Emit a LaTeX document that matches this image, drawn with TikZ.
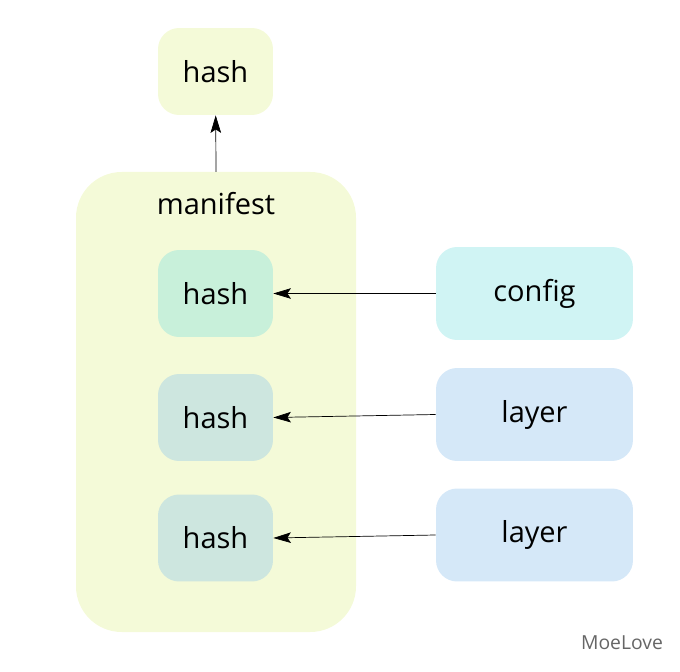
\documentclass[tikz,border=0pt]{standalone}
\usepackage{fontspec}
\setmainfont{Open Sans}
\usepackage{tikz}
\usetikzlibrary{positioning,arrows.meta}
\definecolor{paleyellow}{HTML}{F4FAD8}
\definecolor{mint}{HTML}{C8F0DA}
\definecolor{sage}{HTML}{CDE6DF}
\definecolor{aqua}{HTML}{D0F4F4}
\definecolor{skyblue}{HTML}{D5E8F8}
\tikzset{
  box/.style={rounded corners=12pt,minimum width=2.3cm,minimum height=1.74cm,font=\fontsize{16.5}{18}\selectfont,inner sep=0pt},
  wide/.style={box,minimum width=3.94cm,minimum height=1.86cm},
  link/.style={-{Stealth[length=10pt,width=6pt,inset=2pt]},thin}
}
\begin{document}
\begin{tikzpicture}[x=0.02cm,y=-0.02cm,line join=round]
\useasboundingbox (0,0) rectangle (680,672);
\fill[paleyellow,rounded corners=26pt] (76,172) rectangle (356,632);
\node[font=\fontsize{16.5}{18}\selectfont] (mlabel) at (216,204) {manifest};
\coordinate (mtop) at (216,172);
\node[box,fill=paleyellow] (top) at (215.5,71.5) {hash};
\node[box,fill=mint] (h1) at (215.5,293.5) {hash};
\node[box,fill=sage] (h2) at (215.5,417.5) {hash};
\node[box,fill=sage] (h3) at (215.5,538) {hash};
\node[wide,fill=aqua] (config) at (534.5,293.5) {config};
\node[wide,fill=skyblue] (layer1) at (534.5,414.5) {layer};
\node[wide,fill=skyblue] (layer2) at (534.5,535) {layer};
\draw[link] (mtop) -- (top);
\draw[link] (config) -- (h1);
\draw[link] (layer1.west) -- (h2.east);
\draw[link] (layer2.west) -- (h3.east);
\node[text=gray!80!black,font=\fontsize{11}{13}\selectfont] (mark) at (622,643) {MoeLove};
\end{tikzpicture}
\end{document}
